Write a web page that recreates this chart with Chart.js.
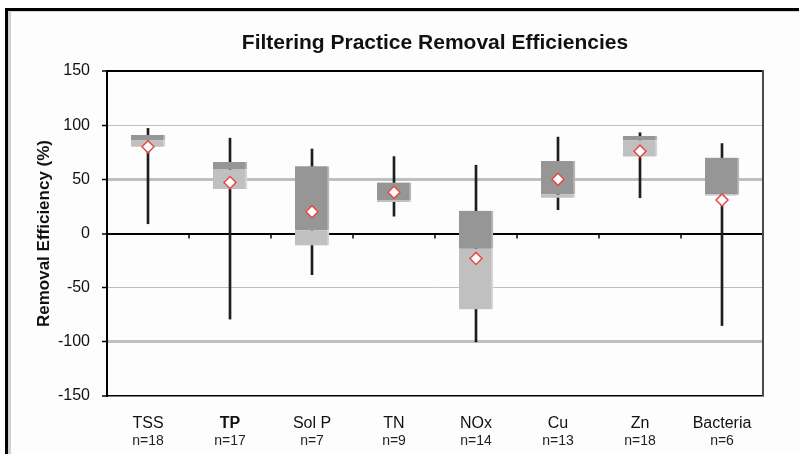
<!DOCTYPE html>
<html>
<head>
<meta charset="utf-8">
<script src="https://cdn.jsdelivr.net/npm/chart.js@4.4.1/dist/chart.umd.min.js"></script>
<style>
    html, body { margin: 0; padding: 0; background: #fff; }
    body { width: 799px; height: 454px; position: relative; overflow: hidden; }
    .frame { position: absolute; left: 5px; top: 8px; width: 800px; height: 460px;
        border-left: 3px solid #000; border-top: 3px solid #000; }
    .frame-inner { position: absolute; left: 0; top: 0; right: 0; bottom: 0;
        border-left: 3px solid #cfcfcf; border-top: 1px solid #d4d4d4; background: #fdfdfd; }
    #boxChart { position: absolute; left: 0; top: 0; }
</style>
</head>
<body>
<div class="frame"><div class="frame-inner"></div></div>
<canvas id="boxChart" width="799" height="454"></canvas>
<script>
const TITLE = 'Filtering Practice Removal Efficiencies';
const categories = ['TSS', 'TP', 'Sol P', 'TN', 'NOx', 'Cu', 'Zn', 'Bacteria'];
const sampleCounts = ['n=18', 'n=17', 'n=7', 'n=9', 'n=14', 'n=13', 'n=18', 'n=6'];
const minVals = [9, -79, -38, 16, -100, 22, 33, -85];
const q1Vals = [80, 41, -11, 29, -70, 33, 71, 35];
const medianVals = [86, 59, 3, 31, -14, 36, 86, 36];
const q3Vals = [91, 66, 62, 47, 21, 67, 90, 70];
const maxVals = [97, 88, 78, 71, 63, 89, 93, 83];
const meanVals = [80, 47, 20, 38, -23, 50, 76, 31];
const yTicks = [150, 100, 50, 0, -50, -100, -150];

const FONT = "'Liberation Sans', Arial, sans-serif";
const pairs = (a, b) => a.map((v, i) => [v, b[i]]);

// title over the plot centre, right edge and the little ticks on the zero line
const framePlugin = {
    id: 'frame',
    beforeDatasetsDraw(chart) {
        const { ctx, scales } = chart;
        const y0 = scales.y.getPixelForValue(0);
        ctx.save();
        ctx.strokeStyle = '#000';
        ctx.lineWidth = 1.5;
        for (let i = 1; i < categories.length; i++) {
            const xb = (scales.x.getPixelForValue(i - 1) + scales.x.getPixelForValue(i)) / 2;
            ctx.beginPath();
            ctx.moveTo(xb, y0);
            ctx.lineTo(xb, y0 + 5);
            ctx.stroke();
        }
        ctx.restore();
    },
    afterDraw(chart) {
        const { ctx, chartArea } = chart;
        ctx.save();
        ctx.strokeStyle = '#4a4a4a';
        ctx.lineWidth = 2;
        ctx.beginPath();
        ctx.moveTo(chartArea.right, chartArea.top - 1);
        ctx.lineTo(chartArea.right, chartArea.bottom);
        ctx.stroke();
        ctx.fillStyle = '#111';
        ctx.font = 'bold 21px ' + FONT;
        ctx.textAlign = 'center';
        ctx.textBaseline = 'alphabetic';
        ctx.fillText(TITLE, (chartArea.left + chartArea.right) / 2, 49);
        ctx.restore();
    },
};

function gridColor(ctx) {
    const v = ctx.tick && ctx.tick.value;
    return v === 0 || v === 150 ? '#000' : '#bfbfbf';
}
function gridWidth(ctx) {
    const v = ctx.tick && ctx.tick.value;
    if (v === 0 || v === 150) return 2;
    if (v === 50 || v === -100) return 3;
    if (v === -150) return 0;
    return 1;
}

new Chart(document.getElementById('boxChart').getContext('2d'), {
    type: 'bar',
    data: {
        labels: categories,
        datasets: [
            {
                type: 'line',
                label: 'Mean',
                data: meanVals,
                showLine: false,
                pointStyle: 'rectRot',
                pointRadius: 6,
                pointBorderWidth: 1.5,
                pointBorderColor: '#e84a4a',
                pointBackgroundColor: '#fff',
                order: 0,
            },
            {
                label: 'Median-Q3',
                data: pairs(medianVals, q3Vals),
                backgroundColor: '#969696',
                borderColor: '#b8b8b8',
                borderWidth: { right: 2, left: 0, top: 0, bottom: 0 },
                borderSkipped: false,
                barThickness: 34,
                grouped: false,
                order: 1,
            },
            {
                label: 'Q1-Median',
                data: pairs(q1Vals, medianVals),
                backgroundColor: '#c0c0c0',
                borderColor: '#d6d6d6',
                borderWidth: { right: 2, left: 0, top: 0, bottom: 0 },
                borderSkipped: false,
                barThickness: 34,
                grouped: false,
                order: 2,
            },
            {
                label: 'Range',
                data: pairs(minVals, maxVals),
                backgroundColor: '#1e1e1e',
                barThickness: 2,
                grouped: false,
                order: 3,
            },
        ],
    },
    options: {
        responsive: false,
        animation: false,
        layout: { padding: { left: 0, top: 71, right: 36, bottom: 0 } },
        plugins: {
            legend: { display: false },
            tooltip: { enabled: false },
            title: { display: false },
        },
        scales: {
            x: {
                grid: { display: false, drawTicks: false },
                border: { color: '#000', width: 1.5 },
                ticks: {
                    padding: 18,
                    color: '#111',
                    font: (c) => ({ family: FONT, size: 16, weight: c.index === 1 ? 'bold' : 'normal' }),
                },
                afterFit: (s) => { s.height = 34; },
            },
            x2: {
                type: 'category',
                labels: sampleCounts,
                position: 'bottom',
                weight: 1,
                grid: { display: false, drawTicks: false },
                border: { display: false },
                ticks: { padding: 3, color: '#222', font: { family: FONT, size: 14 } },
                afterFit: (s) => { s.height = 24; },
            },
            y: {
                min: -150,
                max: 150,
                afterBuildTicks: (s) => { s.ticks = yTicks.map((v) => ({ value: v })); },
                grid: { color: gridColor, lineWidth: gridWidth, tickColor: '#000', tickLength: 5, tickWidth: 1.5 },
                border: { color: '#000', width: 2 },
                ticks: { padding: 12, color: '#111', font: { family: FONT, size: 16 } },
                title: {
                    display: true,
                    text: 'Removal Efficiency (%)',
                    color: '#111',
                    font: { family: FONT, size: 17, weight: 'bold' },
                    padding: { top: 34, bottom: 0 },
                },
                afterFit: (s) => { s.width = 107; },
            },
        },
    },
    plugins: [framePlugin],
});
</script>
</body>
</html>
